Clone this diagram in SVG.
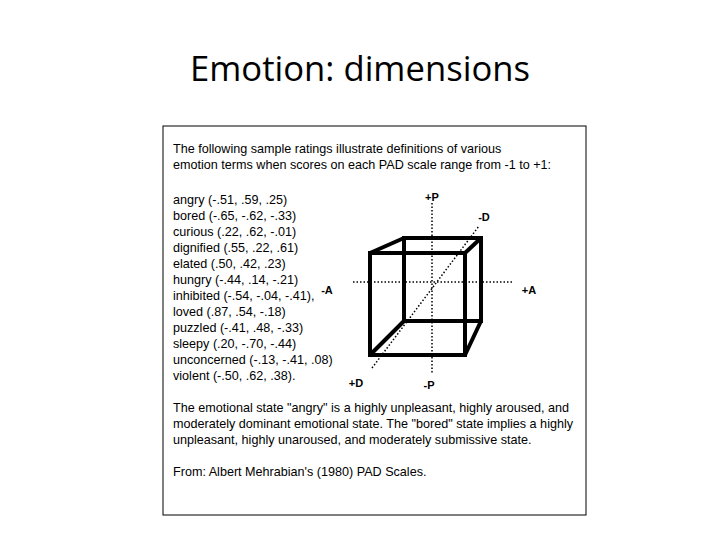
<svg xmlns="http://www.w3.org/2000/svg" width="720" height="540" viewBox="0 0 720 540">
<style>
.t{font-family:"Liberation Sans",Arial,sans-serif;font-size:12.6px;fill:#000}
.b{font-family:"Liberation Sans",Arial,sans-serif;font-size:11px;font-weight:bold;fill:#000}
.cube{fill:none;stroke:#000;stroke-width:4;stroke-linejoin:miter}
.dot{stroke:#000;stroke-width:1.5;stroke-dasharray:1.5 2;fill:none}
</style>
<rect width="720" height="540" fill="#fff"/>
<text x="360" y="81" text-anchor="middle" font-family="'Open Sans','Liberation Sans',sans-serif" font-size="34" fill="#000" textLength="340" lengthAdjust="spacingAndGlyphs">Emotion: dimensions</text>
<rect x="163" y="126" width="423" height="389" fill="none" stroke="#000" stroke-width="1"/>
<g id="heading">
<text class="t" x="173" y="153">The following sample ratings illustrate definitions of various</text>
<text class="t" x="173" y="169">emotion terms when scores on each PAD scale range from -1 to +1:</text>
</g>
<g id="list">
<text class="t" x="173" y="204">angry (-.51, .59, .25)</text>
<text class="t" x="173" y="220">bored (-.65, -.62, -.33)</text>
<text class="t" x="173" y="236">curious (.22, .62, -.01)</text>
<text class="t" x="173" y="252">dignified (.55, .22, .61)</text>
<text class="t" x="173" y="268">elated (.50, .42, .23)</text>
<text class="t" x="173" y="284">hungry (-.44, .14, -.21)</text>
<text class="t" x="173" y="300">inhibited (-.54, -.04, -.41),</text>
<text class="t" x="173" y="316">loved (.87, .54, -.18)</text>
<text class="t" x="173" y="332">puzzled (-.41, .48, -.33)</text>
<text class="t" x="173" y="348">sleepy (.20, -.70, -.44)</text>
<text class="t" x="173" y="364">unconcerned (-.13, -.41, .08)</text>
<text class="t" x="173" y="380">violent (-.50, .62, .38).</text>
</g>
<g id="axes">
<line class="dot" x1="432" y1="203" x2="432" y2="373"/>
<line class="dot" x1="353" y1="282" x2="513" y2="282"/>
<line class="dot" x1="372" y1="368" x2="479" y2="226"/>
</g>
<g id="cube">
<rect class="cube" x="404" y="238" width="77" height="83"/>
<rect class="cube" x="370" y="253" width="95" height="102"/>
<line class="cube" x1="370" y1="253" x2="404" y2="238"/>
<line class="cube" x1="465" y1="253" x2="481" y2="238"/>
<line class="cube" x1="370" y1="355" x2="404" y2="321"/>
<line class="cube" x1="465" y1="355" x2="481" y2="321"/>
</g>
<g id="labels">
<text class="b" x="432" y="201" text-anchor="middle">+P</text>
<text class="b" x="484" y="221" text-anchor="middle">-D</text>
<text class="b" x="327" y="294" text-anchor="middle">-A</text>
<text class="b" x="529" y="294" text-anchor="middle">+A</text>
<text class="b" x="356" y="387" text-anchor="middle">+D</text>
<text class="b" x="429" y="389" text-anchor="middle">-P</text>
</g>
<g id="footer">
<text class="t" x="173" y="412">The emotional state "angry"  is a highly unpleasant, highly aroused, and</text>
<text class="t" x="173" y="428">moderately dominant emotional state. The "bored" state implies a highly</text>
<text class="t" x="173" y="444">unpleasant, highly unaroused, and moderately submissive state.</text>
<text class="t" x="173" y="476">From: Albert Mehrabian's (1980) PAD Scales.</text>
</g>
</svg>
